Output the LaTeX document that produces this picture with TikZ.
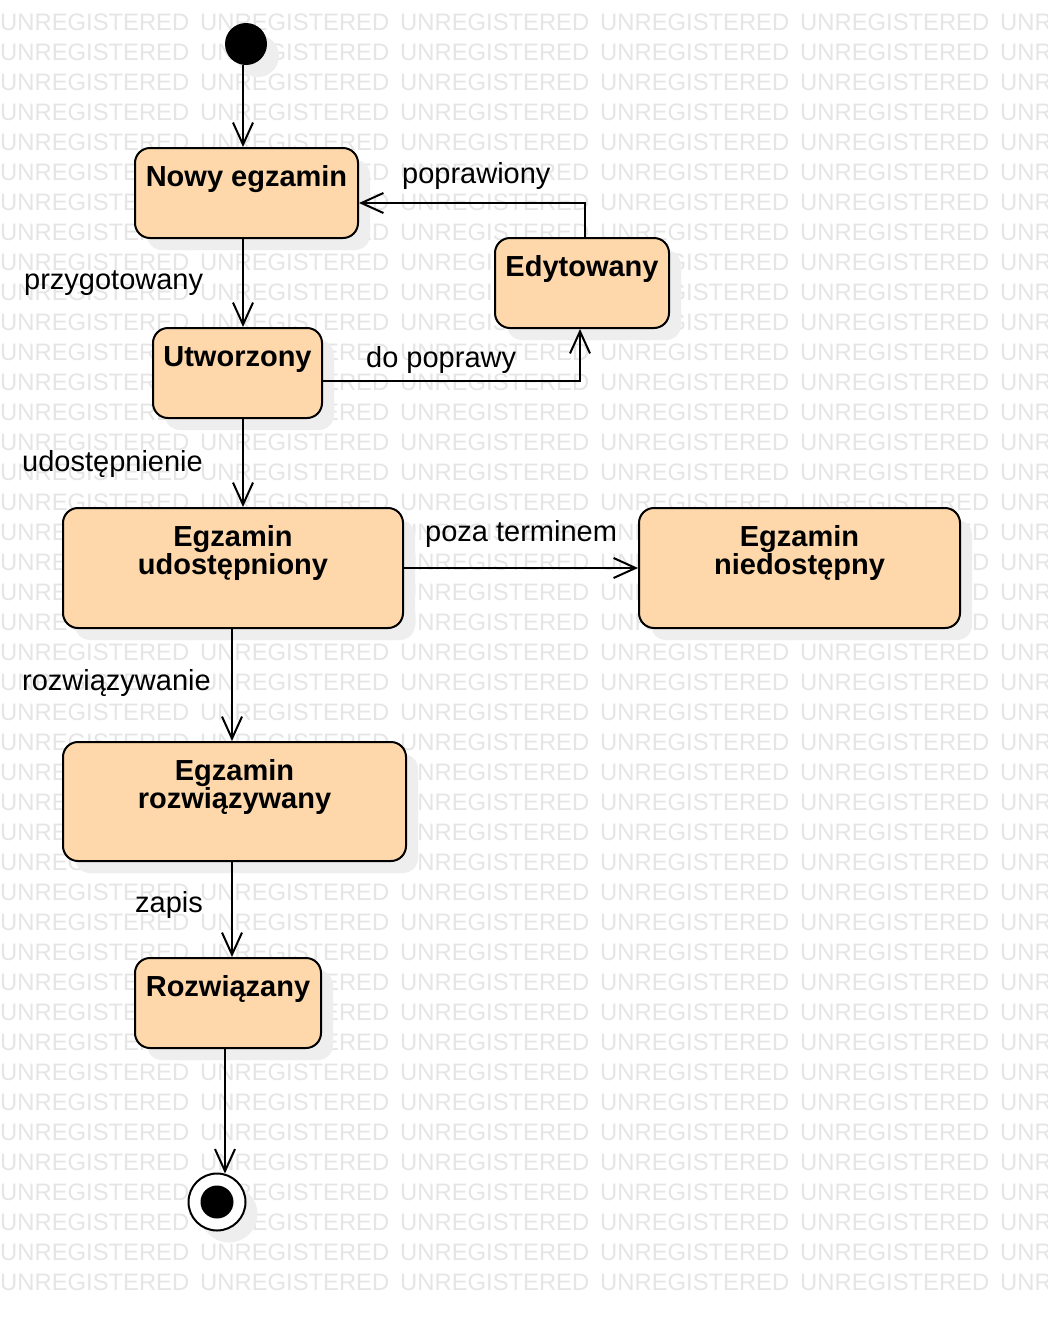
\documentclass[tikz,border=0pt]{standalone}
\usepackage{fontspec}
\setmainfont{Liberation Sans}
\usetikzlibrary{arrows.meta,shadows,calc}
\definecolor{statefill}{RGB}{254,216,170}
\definecolor{shadowgray}{RGB}{238,238,238}
\definecolor{wmgray}{RGB}{229,229,229}
\tikzset{
  statebox/.style={rectangle, draw=black, line width=2pt, fill=statefill, rounded corners=15pt, inner sep=0pt,
    general shadow={fill=shadowgray, shadow xshift=12pt, shadow yshift=-12pt}},
  statetext/.style={font=\fontsize{29}{29}\selectfont\bfseries, anchor=base, inner sep=0pt},
  lbl/.style={font=\fontsize{29}{29}\selectfont, anchor=base west, inner sep=0pt},
  trans/.style={draw=black, line width=2pt, -{Straight Barb[length=22pt,width=20pt]}},
  wm/.style={font=\fontsize{23.8}{24}\selectfont, text=wmgray, anchor=base west, inner sep=0pt},
}
\begin{document}
\begin{tikzpicture}[x=1pt,y=-1pt]
\useasboundingbox (0,0) rectangle (1048,1320);
\clip (0,0) rectangle (1048,1320);
\fill[white] (0,0) rectangle (1048,1320);
% watermark
\foreach \r in {0,...,42}{
  \foreach \c in {0,...,5}{
    \node[wm] (wm-\r-\c) at (200*\c, 30+30*\r) {UNREGISTERED};
  }
}
% initial state
\node[circle, fill=black, minimum size=42pt, inner sep=0pt,
  general shadow={fill=shadowgray, shadow xshift=12pt, shadow yshift=-12pt}] (init) at (246,44) {};
% states
\node[statebox, minimum width=223pt, minimum height=90pt] (nowy) at (246.5,193) {};
\node[statetext] (nowy-t) at (246.5,186) {Nowy egzamin};
\node[statebox, minimum width=174pt, minimum height=90pt] (edyt) at (582,283) {};
\node[statetext] (edyt-t) at (582,276) {Edytowany};
\node[statebox, minimum width=169pt, minimum height=90pt] (utw) at (237.5,373) {};
\node[statetext] (utw-t) at (237.5,366) {Utworzony};
\node[statebox, minimum width=340pt, minimum height=120pt] (udost) at (233,568) {};
\node[statetext] (udost-t1) at (233,546) {Egzamin};
\node[statetext] (udost-t2) at (233,574) {udostępniony};
\node[statebox, minimum width=321pt, minimum height=120pt] (niedost) at (799.5,568) {};
\node[statetext] (niedost-t1) at (799.5,546) {Egzamin};
\node[statetext] (niedost-t2) at (799.5,574) {niedostępny};
\node[statebox, minimum width=343pt, minimum height=119pt] (rozwy) at (234.5,801.5) {};
\node[statetext] (rozwy-t1) at (234.5,780) {Egzamin};
\node[statetext] (rozwy-t2) at (234.5,808) {rozwiązywany};
\node[statebox, minimum width=186pt, minimum height=90pt] (rozwa) at (228,1003) {};
\node[statetext] (rozwa-t) at (228,996) {Rozwiązany};
% final state
\node[circle, draw=black, line width=2pt, fill=white, minimum size=57pt, inner sep=0pt,
  general shadow={fill=shadowgray, shadow xshift=12pt, shadow yshift=-12pt}] (final) at (217,1202) {};
\node[circle, fill=black, minimum size=33pt, inner sep=0pt] (final-dot) at (final.center) {};
% connectors
\coordinate (c0) at ($(init.south)+(-3,0)$);
\draw[trans] (c0) -- (c0 |- nowy.north);
\coordinate (c1) at ($(nowy.south)+(-3.5,0)$);
\draw[trans] (c1) -- (c1 |- utw.north);
\coordinate (c2) at ($(edyt.north)+(3,0)$);
\draw[trans] (c2) |- ($(nowy.east)+(0,10)$);
\draw[trans] ($(utw.east)+(0,8)$) -| ($(edyt.south)+(-2,0)$);
\coordinate (c3) at ($(utw.south)+(5.5,0)$);
\draw[trans] (c3) -- (c3 |- udost.north);
\draw[trans] (udost.east) -- (niedost.west);
\coordinate (c4) at ($(udost.south)+(-1,0)$);
\draw[trans] (c4) -- (c4 |- rozwy.north);
\coordinate (c5) at ($(rozwy.south)+(-2.5,0)$);
\draw[trans] (c5) -- (c5 |- rozwa.north);
\coordinate (c6) at ($(rozwa.south)+(-3,0)$);
\draw[trans] (c6) -- ($(c6 |- final.north)+(0,1)$);
% labels
\node[lbl] (l-popr) at (402,183) {poprawiony};
\node[lbl] (l-przyg) at (24,289) {przygotowany};
\node[lbl] (l-dopopr) at (366,367) {do poprawy};
\node[lbl] (l-udost) at (22,471) {udostępnienie};
\node[lbl] (l-poza) at (425,541) {poza terminem};
\node[lbl] (l-rozw) at (22,690) {rozwiązywanie};
\node[lbl] (l-zapis) at (135,912) {zapis};
\end{tikzpicture}
\end{document}
